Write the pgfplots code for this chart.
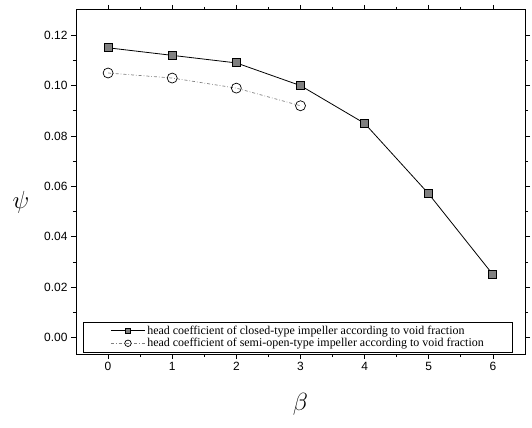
\documentclass[border=0pt]{standalone}
\usepackage{fontspec}
\setmainfont{Liberation Serif}
\setsansfont{Liberation Sans}
\usepackage{pgfplots}
\pgfplotsset{compat=1.18}
\begin{document}
\begin{tikzpicture}
\begin{axis}[
  scale only axis,
  width=449bp, height=344bp,
  xmin=-0.5, xmax=6.5,
  ymin=-0.0065, ymax=0.13,
  xtick={0,1,2,3,4,5,6},
  ytick={0,0.02,0.04,0.06,0.08,0.10,0.12},
  minor x tick num=1,
  minor y tick num=1,
  tick align=outside,
  tick pos=both,
  major tick length=5bp,
  minor tick length=3bp,
  axis line style={line width=1pt},
  every tick/.style={black, line width=0.8pt},
  /pgf/number format/assume math mode=true,
  tick label style={font=\sffamily\fontsize{12}{12}\selectfont},
  yticklabel style={/pgf/number format/fixed, /pgf/number format/fixed zerofill, /pgf/number format/precision=2},
  scaled y ticks=false,
  xlabel={\fontsize{27}{27}\selectfont$\beta$},
  ylabel={\fontsize{27}{27}\selectfont$\psi$},
  xlabel style={at={(axis description cs:0.5,0)}, anchor=north, yshift=-36bp},
  ylabel style={rotate=-90, at={(axis description cs:0,0.44)}, anchor=center, xshift=-55bp},
  legend style={at={(axis description cs:0.016,0.004)}, anchor=south west,
     font=\fontsize{12}{15}\selectfont, draw=black, line width=0.8pt,
     inner xsep=27bp, inner ysep=2bp, row sep=-1.5bp},
  legend cell align=left,
  legend image code/.code={%
    \draw[mark repeat=2,mark phase=2,#1]
      plot coordinates {(0cm,0cm) (0.6cm,0cm) (1.2cm,0cm)};},
  legend image post style={line width=0.8pt, every mark/.append style={scale=0.65}},
]
\addplot[black, line width=0.8pt, mark=square*, mark size=4bp,
  mark options={fill=gray, draw=black, line width=1pt, solid}]
  coordinates {(0,0.115) (1,0.112) (2,0.109) (3,0.100) (4,0.085) (5,0.057) (6,0.025)};
\addlegendentry{head coefficient of closed-type impeller according to void fraction}
\addplot[gray, line width=0.7pt, dash dot, mark=o, mark size=5bp,
  mark options={draw=black, fill=white, line width=0.7pt, solid}]
  coordinates {(0,0.105) (1,0.103) (2,0.099) (3,0.092)};
\addlegendentry{head coefficient of semi-open-type impeller according to void fraction}
\end{axis}
\pgfresetboundingbox
\path ([shift={(-76bp,-74bp)}]current axis.south west) rectangle ([shift={(7bp,10bp)}]current axis.north east);
\end{tikzpicture}
\end{document}
